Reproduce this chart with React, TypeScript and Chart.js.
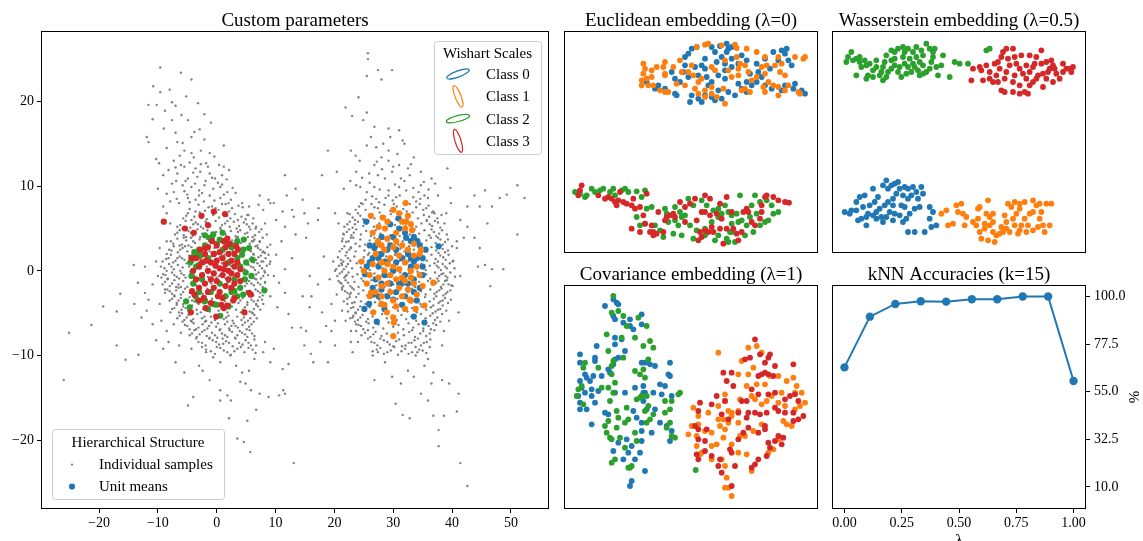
import React, { useEffect, useRef } from 'react';
import { Chart, registerables } from 'chart.js';
Chart.register(...registerables);

const FONT = '"Liberation Serif", "DejaVu Serif", serif';
const C0 = '#1f77b4';
const C1 = '#ff7f0e';
const C2 = '#2ca02c';
const C3 = '#d62728';
const GREY = '#808080';

// ---------- main panel ----------
const MAIN_X_TICKS = [-20, -10, 0, 10, 20, 30, 40, 50];
const MAIN_Y_TICKS = [-20, -10, 0, 10, 20];
const CLASS_LABELS = ['Class 0', 'Class 1', 'Class 2', 'Class 3'];
// legend ellipse shapes: [radiusX, radiusY, rotation]
const WISHART_SHAPES = [[12, 3, -0.35], [3, 11.5, -0.37], [12, 3, -0.25], [3, 12, -0.3]];

const GREY_LEFT_CORE = [
-4.6,7.3, -3.1,7.8, -2.0,7.1, -0.8,7.6, 0.3,7.2, 1.5,7.9, 2.6,7.4, 3.7,7.7, -1.4,7.5, 0.9,7.9,
-5.7,6.2, -4.9,6.8, -3.8,6.4, -2.9,6.9, -1.7,6.1, -0.6,6.6, 0.4,6.3, 1.2,6.8, 2.3,6.2, 3.1,6.7, 4.2,6.4, 4.9,6.1, -2.3,6.5, 1.8,6.5,
-6.2,5.4, -5.3,5.9, -4.5,5.1, -3.6,5.7, -2.7,5.2, -1.9,5.8, -1.1,5.3, -0.2,5.9, 0.6,5.1, 1.4,5.6, 2.2,5.2, 2.9,5.8, 3.8,5.3, 4.6,5.7, 5.5,5.2, 6.1,5.6, -3.2,5.5, 0.9,5.4,
-7.1,4.3, -6.3,4.8, -5.6,4.2, -4.8,4.7, -4.1,4.1, -3.3,4.9, -2.5,4.4, -1.6,4.8, -0.9,4.2, -0.1,4.6, 0.7,4.9, 1.5,4.3, 2.4,4.7, 3.2,4.1, 4.0,4.8, 4.8,4.4, 5.7,4.9, 6.5,4.2, 7.2,4.6, -2.0,4.1, 1.1,4.5, 3.6,4.6,
-7.4,3.2, -6.7,3.8, -5.9,3.1, -5.2,3.6, -4.4,3.9, -3.7,3.3, -2.9,3.7, -2.1,3.1, -1.3,3.5, -0.5,3.9, 0.2,3.2, 1.0,3.7, 1.8,3.1, 2.6,3.6, 3.4,3.9, 4.1,3.3, 4.9,3.8, 5.6,3.2, 6.4,3.7, 7.3,3.4, -4.0,3.5, 0.6,3.4, 2.9,3.3, -1.7,3.8,
-8.1,2.5, -7.3,2.9, -6.6,2.2, -5.8,2.7, -5.0,2.3, -4.3,2.8, -3.5,2.1, -2.7,2.6, -1.9,2.9, -1.2,2.3, -0.4,2.7, 0.3,2.1, 1.1,2.6, 1.9,2.9, 2.7,2.4, 3.5,2.8, 4.3,2.2, 5.0,2.7, 5.8,2.3, 6.6,2.9, 7.4,2.5, 8.2,2.1, -3.1,2.4, 0.7,2.5, 2.3,2.2, 4.6,2.5,
-8.6,1.4, -7.8,1.9, -7.0,1.2, -6.3,1.7, -5.5,1.3, -4.7,1.8, -4.0,1.1, -3.2,1.6, -2.4,1.9, -1.7,1.3, -0.9,1.7, -0.2,1.1, 0.5,1.6, 1.3,1.9, 2.1,1.2, 2.9,1.8, 3.6,1.4, 4.4,1.9, 5.2,1.1, 5.9,1.6, 6.7,1.3, 7.5,1.8, 8.3,1.5, -5.9,1.5, -2.8,1.4, 0.9,1.3, 3.3,1.6, 6.3,1.9,
-8.9,0.3, -8.1,0.8, -7.3,0.2, -6.6,0.7, -5.8,0.4, -5.1,0.9, -4.3,0.1, -3.6,0.6, -2.8,0.3, -2.1,0.8, -1.3,0.2, -0.6,0.7, 0.2,0.4, 0.9,0.9, 1.7,0.1, 2.4,0.6, 3.2,0.3, 3.9,0.8, 4.7,0.2, 5.4,0.7, 6.2,0.4, 6.9,0.9, 7.7,0.3, 8.5,0.6, -4.7,0.5, -1.7,0.5, 1.3,0.5, 4.3,0.5,
-9.1,-0.4, -8.3,-0.9, -7.6,-0.2, -6.8,-0.7, -6.0,-0.3, -5.3,-0.8, -4.5,-0.1, -3.8,-0.6, -3.0,-0.9, -2.3,-0.3, -1.5,-0.7, -0.8,-0.2, 0.0,-0.8, 0.7,-0.4, 1.5,-0.9, 2.2,-0.2, 3.0,-0.6, 3.7,-0.3, 4.5,-0.8, 5.2,-0.1, 6.0,-0.6, 6.7,-0.4, 7.5,-0.9, 8.2,-0.2, -5.6,-0.5, -2.7,-0.5, 0.4,-0.6, 3.3,-0.7,
-8.8,-1.3, -8.0,-1.8, -7.2,-1.1, -6.5,-1.6, -5.7,-1.2, -5.0,-1.9, -4.2,-1.4, -3.5,-1.7, -2.7,-1.1, -2.0,-1.6, -1.2,-1.3, -0.5,-1.9, 0.3,-1.2, 1.0,-1.7, 1.8,-1.4, 2.5,-1.9, 3.3,-1.1, 4.0,-1.5, 4.8,-1.8, 5.5,-1.2, 6.3,-1.7, 7.0,-1.4, 7.8,-1.9, -3.9,-1.2, -0.9,-1.5, 2.1,-1.3, 5.1,-1.5, -6.1,-1.9,
-8.4,-2.2, -7.6,-2.7, -6.9,-2.3, -6.1,-2.8, -5.4,-2.1, -4.6,-2.6, -3.9,-2.9, -3.1,-2.3, -2.4,-2.7, -1.6,-2.1, -0.9,-2.6, -0.1,-2.9, 0.6,-2.3, 1.4,-2.8, 2.1,-2.2, 2.9,-2.6, 3.6,-2.1, 4.4,-2.7, 5.1,-2.4, 5.9,-2.8, 6.6,-2.2, 7.4,-2.6, -2.8,-2.4, 0.2,-2.5, 3.2,-2.5, -5.7,-2.5,
-7.6,-3.3, -6.8,-3.8, -6.1,-3.2, -5.3,-3.7, -4.6,-3.1, -3.8,-3.6, -3.1,-3.9, -2.3,-3.2, -1.6,-3.7, -0.8,-3.3, -0.1,-3.8, 0.7,-3.1, 1.4,-3.6, 2.2,-3.9, 2.9,-3.3, 3.7,-3.8, 4.4,-3.2, 5.2,-3.7, 5.9,-3.4, 6.7,-3.9, 7.3,-3.1, -4.2,-3.5, 1.0,-3.4, 4.0,-3.5,
-7.2,-4.4, -6.4,-4.9, -5.7,-4.2, -4.9,-4.7, -4.2,-4.1, -3.4,-4.6, -2.7,-4.9, -1.9,-4.3, -1.2,-4.8, -0.4,-4.2, 0.3,-4.7, 1.1,-4.4, 1.8,-4.9, 2.6,-4.2, 3.3,-4.6, 4.1,-4.9, 4.8,-4.3, 5.6,-4.8, 6.3,-4.5, 7.0,-4.2, -2.3,-4.5, 0.8,-4.5,
-6.3,-5.3, -5.5,-5.8, -4.8,-5.2, -4.0,-5.7, -3.3,-5.1, -2.5,-5.6, -1.8,-5.9, -1.0,-5.4, -0.3,-5.8, 0.5,-5.2, 1.2,-5.7, 2.0,-5.3, 2.7,-5.9, 3.5,-5.4, 4.2,-5.8, 5.0,-5.1, 5.7,-5.6, 6.4,-5.2, -2.1,-5.4, 1.6,-5.5,
-5.4,-6.4, -4.6,-6.9, -3.9,-6.2, -3.1,-6.7, -2.4,-6.3, -1.6,-6.8, -0.9,-6.1, -0.1,-6.6, 0.6,-6.9, 1.4,-6.3, 2.1,-6.8, 2.9,-6.2, 3.6,-6.7, 4.4,-6.4, 5.1,-6.9, 5.9,-6.3, -1.3,-6.5, 2.5,-6.5,
-4.2,-7.4, -3.4,-7.8, -2.5,-7.2, -1.7,-7.7, -0.8,-7.3, 0.1,-7.9, 0.9,-7.4, 1.8,-7.8, 2.6,-7.2, 3.5,-7.6, 4.3,-7.3, 5.2,-7.8, 6.0,-7.4, -0.3,-7.6,
-3.1,-8.4, -1.9,-8.8, -0.7,-8.2, 0.4,-8.7, 1.6,-8.3, 2.7,-8.9, 3.8,-8.5, 4.9,-8.2, 5.8,-8.8, 1.1,-8.6,
-1.8,-9.3, -0.3,-9.8, 1.2,-9.4, 2.4,-9.9, 3.5,-9.2, 4.7,-9.6, 6.1,-9.3, 0.6,-9.1,
];

const GREY_LEFT_RING = [
-3.6,7.0, -0.2,7.4, 2.1,7.0, 4.4,7.5,
-5.2,6.5, -4.3,6.0, -0.1,6.9, 3.6,6.0, 5.4,6.6, 6.2,6.2,
-5.8,5.0, -4.0,5.5, -2.3,5.0, 1.8,5.9, 3.4,5.0, 5.1,5.5, 6.6,5.0,
-6.7,4.5, -5.2,4.0, -4.4,4.5, -2.8,4.0, 3.6,4.0, 5.2,4.5, 6.1,4.0, 7.6,4.9,
-7.8,3.5, -6.3,3.0, -5.6,3.9, -4.8,3.0, 4.5,3.5, 5.3,4.0, 6.0,3.5, 6.9,3.0, 7.8,3.9,
-8.5,2.0, -7.7,2.4, -6.2,2.5, -5.4,2.9, 5.4,2.5, 6.2,2.0, 7.0,2.7, 7.8,2.2, 8.6,2.8,
-9.2,1.1, -8.2,1.5, -7.4,1.0, -6.7,1.5, 5.6,1.4, 6.3,1.0, 7.1,1.6, 7.9,1.1, 8.8,1.9,
-9.5,0.5, -8.5,0.0, -7.7,0.5, -6.2,0.0, 5.8,0.5, 6.5,0.1, 7.3,0.6, 8.1,0.0, 9.0,0.8,
-9.4,-0.8, -8.7,-0.5, -7.2,-0.5, -6.4,-0.9, 5.6,-0.5, 6.4,-0.9, 7.1,-0.2, 7.9,-0.6, 8.7,-0.5,
-9.2,-1.6, -8.4,-1.0, -7.6,-1.5, -6.9,-1.9, 5.9,-1.5, 6.7,-1.0, 7.4,-1.6, 8.2,-1.3,
-8.8,-2.6, -8.0,-2.4, -7.2,-2.9, -6.5,-2.0, 5.5,-2.5, 6.2,-2.9, 7.0,-2.4, 7.8,-2.9,
-8.0,-3.5, -7.2,-3.0, -6.5,-3.5, -5.7,-3.9, 5.5,-3.0, 6.3,-3.6, 7.0,-3.5, 7.7,-3.4,
-7.6,-4.5, -6.8,-4.0, -6.0,-4.6, -5.3,-4.4, -4.5,-4.9, 4.5,-4.6, 5.2,-4.0, 6.0,-4.9, 6.7,-4.0, 7.4,-4.6,
-6.7,-5.6, -5.9,-5.0, -5.1,-5.5, -4.4,-5.9, 4.6,-5.5, 5.3,-5.9, 6.1,-5.0, 6.8,-5.6,
-5.8,-6.0, -5.0,-6.5, -4.2,-6.0, -3.5,-6.9, -2.0,-6.0, 0.2,-6.2, 1.8,-6.0, 3.2,-6.5, 4.8,-6.1, 5.5,-6.6, 6.3,-6.0,
-4.6,-7.6, -3.8,-7.0, -2.9,-7.5, -2.1,-7.0, -1.2,-7.9, 0.5,-7.0, 1.4,-7.6, 2.2,-7.0, 3.1,-7.9, 3.9,-7.1, 4.8,-7.5, 5.6,-7.0, 6.4,-7.7,
-3.5,-8.0, -2.5,-8.5, -1.3,-8.0, -0.1,-8.4, 1.0,-8.0, 2.1,-8.5, 3.2,-8.0, 4.4,-8.7, 5.4,-8.5, 6.4,-8.1,
-2.5,-9.0, -1.0,-9.5, 0.0,-9.0, 1.8,-9.6, 3.0,-9.5, 4.1,-9.0, 5.4,-9.1, 6.6,-9.7,
-6.8,8.5, -5.5,9.4, -4.6,8.1, -3.0,8.9, -2.2,8.2, -0.4,8.3, 1.2,9.0, 2.0,8.0, -7.6,10.3, -5.3,10.6, -3.7,10.3, -2.8,11.7, -0.8,11.0, 0.9,10.2, -4.6,12.8, -7.0,12.2,
];

const GREY_LEFT_HALO = [
-9.6,24.0, -6.1,23.4, -4.3,22.6, -10.8,21.8, -9.6,21.1, -8.0,21.4, -11.6,19.6, -10.2,19.6, -8.8,18.9, -7.6,19.9, -7.0,19.5, -10.9,17.9, -7.6,17.8, -4.9,17.8, -2.1,18.5, -1.0,17.5, -2.9,16.7, -3.8,16.4, -4.3,15.8, -11.9,15.8, -11.6,15.2, -6.7,15.2, -5.8,15.1, -2.1,15.5, 1.2,14.8, -5.5,14.2, -4.3,13.9, -2.7,14.2, -1.2,13.9, -10.3,13.2, -7.3,13.0, -6.1,12.5, -2.7,12.6, -1.8,12.7, -5.5,12.3, -3.6,12.1, 0.4,12.5, 1.2,12.3, 2.1,11.9, -9.1,11.3, -6.7,11.5, -4.9,10.9, -3.3,11.1, -1.2,11.5, -0.3,10.9, 0.9,11.3, 2.7,9.8, -10.0,9.7, -8.5,9.1, -7.3,9.3, -5.8,10.1, -4.3,9.9, -3.0,9.5, -2.1,10.1, -0.6,9.7, 0.6,9.9, 1.8,9.3, -9.1,7.6, -7.9,8.2, -6.4,8.0, -4.9,8.6, -3.6,8.4, -1.2,8.9, 0.6,8.6, 2.4,8.4, 4.3,8.0, 7.3,8.9, 8.8,8.4, 9.1,8.0, 11.2,7.0, 11.6,11.3, 13.4,9.7, 11.9,8.9,
-8.5,14.5, -7.0,16.3, -3.2,19.8, -5.2,20.6, -9.0,16.8, -6.3,13.6, -3.9,13.4, -0.4,13.5, -8.2,11.9, -1.9,10.6, 0.2,10.4, -6.9,10.6, -4.0,11.6, -2.5,9.2, -5.0,9.0, -1.5,12.3, 1.7,10.8, 3.2,9.2, -9.8,12.7, -6.0,18.4,
-0.6,-10.2, 0.6,-10.8, 2.3,-10.0, 3.3,-11.2, 4.3,-12.0, 5.5,-11.8, 6.4,-10.4, 7.9,-9.6, 9.1,-10.8, 4.0,-13.1, 4.9,-13.3, 5.8,-14.1, 7.3,-14.5, 8.8,-14.9, 10.6,-14.7, 11.3,-14.1, 0.6,-14.1, 1.8,-14.7, 0.6,-15.3, 2.4,-15.3, 6.7,-16.4, 2.1,-17.4, 5.2,-17.7, 3.5,-19.8, 4.6,-20.2, 5.7,-21.4, 13.1,-22.7, -4.9,-15.9, -4.0,-14.9, -2.4,-11.8, -1.2,-12.9, -7.0,-10.8, -5.5,-12.0, -3.0,-11.2, -1.8,-9.6, 6.7,-8.8, 8.2,-8.4, 9.7,-9.2, 12.2,-11.0, 11.6,-14.5,
-26.0,-12.9, -25.1,-7.3, -21.3,-6.4, -19.3,-4.2, -17.0,-4.8, -16.4,-2.7, -15.5,-10.5, -13.3,-9.9, -17.0,-8.8, -14.1,0.7, -12.2,0.5, -13.4,-1.4, -12.2,-2.6, -14.0,-3.9, -11.9,-4.7, -10.9,-6.3, -10.3,-8.2, -9.1,-9.2, -8.5,-7.1, -10.0,-0.6, -10.3,1.1, -9.7,2.7, -8.5,3.5, -7.9,5.6, -12.8,-5.5, -11.6,-3.4, -9.7,-3.9, -8.8,-2.2, -10.9,-1.6, -9.4,-5.9, -7.9,-4.9, -7.3,-6.3, -8.2,-8.4, -6.1,-7.3, -6.4,-8.8, -4.3,-9.2, -8.5,6.8, -6.7,5.2,
9.7,8.0, 7.9,7.2, 10.1,6.0, 11.6,5.2, 11.0,3.5, 9.1,3.1, 10.1,1.9, 11.6,0.2, 9.7,-0.6, 8.2,-1.4, 9.1,-3.0, 10.3,-4.3, 7.9,-3.9, 11.6,-2.6, 13.1,6.4, 14.9,6.8, 15.5,5.6, 13.4,4.3, 12.8,7.2, 8.2,5.6, 8.5,4.3, 6.7,5.2, 7.3,3.5, 9.1,1.1, 7.6,1.1, 10.6,-1.4, 12.8,1.5, 12.2,-5.1, 12.8,-6.7, 11.2,-11.6, 7.1,7.8, 5.5,7.6, 5.2,6.6, 6.2,3.5, 7.9,2.3,
];

const GREY_BRIDGE = [
17.3,7.4, 17.2,6.0, 18.2,1.7, 18.9,14.2, 17.9,11.3, 16.1,-3.0, 14.6,-3.0, 15.8,-4.3, 14.3,-6.7, 15.2,-7.1, 14.9,-8.8, 16.0,-9.8, 16.4,-10.8, 17.6,-8.4, 18.9,-10.8, 20.1,-8.8, 19.5,-7.1, 18.6,-6.5, 17.9,-4.9, 20.1,-5.9, 19.5,-3.9, 20.4,-2.8, 21.3,-2.2, 21.3,-4.7, 21.0,-1.4, 19.2,-1.0, 20.1,0.0, 14.6,8.4, 15.2,3.9, 15.8,-0.6, 17.2,-1.6, 22.8,-8.4, 23.7,-7.1,
];

const GREY_RIGHT_CORE = [
25.3,8.4, 26.4,8.8, 27.6,8.1, 28.7,8.6, 29.9,8.3, 31.1,8.9, 32.2,8.2, 33.4,8.7, 34.6,8.5, 30.5,8.7,
24.2,7.6, 25.3,7.2, 26.3,7.9, 27.4,7.4, 28.5,7.8, 29.5,7.1, 30.6,7.6, 31.7,7.3, 32.8,7.9, 33.9,7.5, 35.1,7.2, 36.0,7.7,
23.1,6.3, 24.0,6.8, 24.9,6.1, 25.9,6.6, 26.8,6.2, 27.7,6.9, 28.6,6.4, 29.6,6.7, 30.5,6.1, 31.4,6.8, 32.3,6.3, 33.3,6.9, 34.2,6.2, 35.2,6.6, 36.1,6.4, 37.0,6.8,
22.2,5.5, 23.1,5.1, 24.0,5.8, 24.9,5.3, 25.8,5.9, 26.7,5.2, 27.6,5.6, 28.5,5.1, 29.4,5.8, 30.3,5.4, 31.2,5.9, 32.1,5.3, 33.0,5.7, 33.9,5.2, 34.8,5.6, 35.7,5.9, 36.6,5.3, 37.6,5.7,
22.1,4.6, 22.9,4.2, 23.7,4.9, 24.5,4.3, 25.4,4.7, 26.2,4.1, 27.0,4.8, 27.8,4.4, 28.7,4.9, 29.5,4.2, 30.3,4.6, 31.1,4.1, 32.0,4.7, 32.8,4.3, 33.6,4.9, 34.4,4.4, 35.3,4.8, 36.1,4.2, 36.9,4.6, 37.8,4.4,
22.0,3.4, 22.8,3.9, 23.6,3.2, 24.4,3.7, 25.2,3.1, 26.0,3.6, 26.8,3.9, 27.6,3.3, 28.4,3.8, 29.2,3.2, 30.0,3.7, 30.8,3.1, 31.6,3.5, 32.4,3.9, 33.2,3.3, 34.0,3.8, 34.8,3.2, 35.6,3.6, 36.4,3.9, 37.2,3.3, 38.0,3.7, 38.8,3.4,
21.3,2.6, 22.1,2.2, 22.8,2.8, 23.6,2.3, 24.3,2.9, 25.1,2.4, 25.9,2.1, 26.6,2.7, 27.4,2.2, 28.1,2.8, 28.9,2.4, 29.7,2.9, 30.4,2.1, 31.2,2.6, 31.9,2.3, 32.7,2.9, 33.5,2.5, 34.2,2.1, 35.0,2.7, 35.7,2.3, 36.5,2.8, 37.3,2.4, 38.0,2.9, 38.8,2.2,
21.1,1.3, 21.9,1.8, 22.7,1.2, 23.4,1.7, 24.2,1.1, 25.0,1.6, 25.7,1.9, 26.5,1.3, 27.3,1.8, 28.0,1.2, 28.8,1.7, 29.6,1.4, 30.3,1.9, 31.1,1.2, 31.9,1.6, 32.6,1.1, 33.4,1.8, 34.2,1.3, 34.9,1.7, 35.7,1.2, 36.5,1.9, 37.2,1.4, 38.0,1.8, 38.9,1.3,
20.8,0.6, 21.6,0.2, 22.3,0.8, 23.0,0.3, 23.8,0.9, 24.5,0.4, 25.2,0.7, 26.0,0.1, 26.7,0.6, 27.4,0.9, 28.2,0.3, 28.9,0.8, 29.6,0.2, 30.4,0.7, 31.1,0.4, 31.8,0.9, 32.6,0.2, 33.3,0.6, 34.0,0.3, 34.8,0.8, 35.5,0.1, 36.2,0.6, 37.0,0.9, 37.7,0.4, 38.4,0.8, 39.1,0.3,
20.9,-0.3, 21.7,-0.8, 22.4,-0.2, 23.1,-0.7, 23.9,-0.4, 24.6,-0.9, 25.3,-0.1, 26.1,-0.6, 26.8,-0.3, 27.5,-0.8, 28.3,-0.2, 29.0,-0.7, 29.7,-0.5, 30.5,-0.9, 31.2,-0.2, 31.9,-0.6, 32.7,-0.3, 33.4,-0.8, 34.1,-0.1, 34.9,-0.7, 35.6,-0.4, 36.3,-0.9, 37.1,-0.2, 37.8,-0.6, 38.5,-0.3, 39.2,-0.8,
21.2,-1.5, 21.9,-1.1, 22.7,-1.8, 23.4,-1.3, 24.1,-1.9, 24.9,-1.2, 25.6,-1.6, 26.3,-1.1, 27.1,-1.7, 27.8,-1.4, 28.5,-1.9, 29.3,-1.2, 30.0,-1.6, 30.7,-1.3, 31.5,-1.8, 32.2,-1.1, 32.9,-1.5, 33.7,-1.9, 34.4,-1.3, 35.1,-1.7, 35.9,-1.2, 36.6,-1.6, 37.3,-1.4, 38.1,-1.9, 38.8,-1.2, 39.4,-1.6,
21.8,-2.4, 22.6,-2.8, 23.3,-2.2, 24.1,-2.7, 24.9,-2.3, 25.6,-2.9, 26.4,-2.1, 27.1,-2.6, 27.9,-2.4, 28.7,-2.8, 29.4,-2.2, 30.2,-2.7, 30.9,-2.3, 31.7,-2.9, 32.5,-2.5, 33.2,-2.1, 34.0,-2.6, 34.7,-2.4, 35.5,-2.8, 36.3,-2.2, 37.0,-2.7, 37.8,-2.3, 38.5,-2.9, 39.2,-2.5,
22.2,-3.3, 23.0,-3.8, 23.7,-3.1, 24.5,-3.6, 25.3,-3.9, 26.1,-3.2, 26.9,-3.7, 27.6,-3.4, 28.4,-3.9, 29.2,-3.1, 30.0,-3.6, 30.7,-3.3, 31.5,-3.8, 32.3,-3.2, 33.1,-3.7, 33.8,-3.4, 34.6,-3.9, 35.4,-3.1, 36.2,-3.6, 36.9,-3.3, 37.7,-3.8, 38.4,-3.5,
22.8,-4.4, 23.6,-4.9, 24.4,-4.2, 25.2,-4.7, 26.0,-4.3, 26.8,-4.8, 27.6,-4.1, 28.4,-4.6, 29.2,-4.9, 30.0,-4.3, 30.8,-4.7, 31.6,-4.2, 32.4,-4.8, 33.2,-4.4, 34.0,-4.9, 34.8,-4.2, 35.6,-4.6, 36.4,-4.3, 37.2,-4.8, 38.0,-4.5,
23.2,-5.3, 24.0,-5.8, 24.8,-5.2, 25.7,-5.7, 26.5,-5.4, 27.3,-5.9, 28.1,-5.1, 28.9,-5.6, 29.8,-5.3, 30.6,-5.8, 31.4,-5.2, 32.2,-5.7, 33.1,-5.4, 33.9,-5.9, 34.7,-5.1, 35.5,-5.6, 36.3,-5.3, 37.1,-5.8,
24.1,-6.4, 24.9,-6.9, 25.8,-6.2, 26.6,-6.7, 27.5,-6.3, 28.3,-6.8, 29.2,-6.1, 30.0,-6.6, 30.9,-6.4, 31.7,-6.9, 32.6,-6.2, 33.4,-6.7, 34.3,-6.3, 35.1,-6.8, 36.0,-6.5, 36.8,-6.2,
25.2,-7.3, 26.1,-7.8, 27.0,-7.2, 28.0,-7.7, 28.9,-7.4, 29.9,-7.9, 30.8,-7.3, 31.8,-7.6, 32.7,-7.2, 33.7,-7.8, 34.6,-7.4, 35.6,-7.7,
26.3,-8.4, 27.3,-8.8, 28.4,-8.2, 29.4,-8.7, 30.5,-8.3, 31.5,-8.9, 32.6,-8.5, 33.6,-8.2, 34.7,-8.8, 35.7,-8.4,
27.2,-9.3, 28.4,-9.8, 29.6,-9.4, 30.8,-9.9, 32.0,-9.2, 33.2,-9.6, 34.4,-9.3, 35.6,-9.7,
];

const GREY_RIGHT_RING = [
24.5,8.0, 27.1,8.5, 29.2,8.9, 31.8,8.0, 33.9,8.2, 35.3,8.9,
23.6,7.2, 24.8,7.9, 26.8,7.5, 30.1,7.9, 32.3,7.0, 34.5,7.9, 35.6,7.4, 36.8,7.0,
22.6,6.7, 23.5,6.0, 24.4,6.5, 35.7,6.0, 36.6,6.9, 37.5,6.2, 38.2,6.6,
21.7,5.2, 22.6,5.8, 23.5,5.5, 36.2,5.5, 37.1,5.9, 38.0,5.1, 38.7,5.6,
21.5,4.4, 22.5,4.9, 23.3,4.5, 36.5,4.9, 37.3,4.1, 38.3,4.8, 39.1,4.3,
21.4,3.8, 22.4,3.5, 23.2,3.9, 37.6,3.9, 38.4,3.1, 39.3,3.7,
20.9,2.3, 21.7,2.9, 22.5,2.5, 37.7,2.1, 38.4,2.6, 39.3,2.4, 40.0,2.9,
20.6,1.6, 21.5,1.1, 22.3,1.5, 37.6,1.1, 38.5,1.6, 39.4,1.9, 40.2,1.2,
20.3,0.2, 21.2,0.9, 22.0,0.5, 37.4,0.6, 38.1,0.1, 38.8,0.5, 39.6,0.9, 40.4,0.3,
20.5,-0.6, 21.3,-0.1, 22.1,-0.5, 37.5,-0.9, 38.2,-0.4, 38.9,-0.6, 39.7,-0.2, 40.5,-0.7,
20.7,-1.2, 21.5,-1.8, 22.3,-1.4, 37.7,-1.2, 38.5,-1.6, 39.1,-1.1, 39.9,-1.7,
21.3,-2.0, 22.2,-2.6, 23.0,-2.0, 37.4,-2.5, 38.2,-2.1, 38.9,-2.7, 39.7,-2.3,
21.6,-3.6, 22.6,-3.1, 23.4,-3.7, 37.3,-3.0, 38.0,-3.6, 38.8,-3.2, 39.3,-3.8,
22.3,-4.8, 23.2,-4.3, 24.0,-4.6, 36.8,-4.1, 37.6,-4.6, 38.4,-4.1, 39.0,-4.7,
22.7,-5.6, 23.6,-5.0, 24.4,-5.5, 36.7,-5.0, 37.5,-5.5, 38.3,-5.1,
23.5,-6.0, 24.5,-6.5, 25.4,-6.0, 36.4,-6.9, 37.3,-6.4, 38.0,-6.0,
24.6,-7.6, 25.7,-7.0, 26.6,-7.5, 33.2,-7.0, 35.1,-7.1, 36.2,-7.4, 37.0,-7.0,
25.7,-8.0, 26.8,-8.5, 27.8,-8.0, 29.0,-8.4, 30.0,-8.9, 31.0,-8.1, 32.1,-8.8, 33.1,-8.5, 34.2,-8.0, 35.2,-8.5, 36.3,-8.1,
26.5,-9.5, 27.8,-9.1, 29.0,-9.6, 30.2,-9.0, 31.4,-9.5, 32.6,-9.8, 33.8,-9.0, 35.0,-9.4, 36.2,-9.0,
24.4,9.9, 26.0,10.4, 27.7,9.6, 28.1,12.0, 30.3,10.2, 31.9,10.6, 33.4,9.8, 35.2,10.5, 24.7,11.0, 27.2,12.9, 30.0,12.3, 33.0,12.6, 22.7,10.6, 36.0,9.6, 37.6,8.9, 37.1,10.3,
];

const GREY_RIGHT_HALO = [
25.7,25.7, 25.7,25.0, 27.4,23.7, 29.8,23.7, 28.0,22.6, 25.5,23.0, 24.1,20.5, 21.9,19.3, 23.0,18.3, 25.5,18.7, 26.8,17.0, 29.2,16.8, 29.5,15.8, 31.0,16.6, 31.6,15.4, 24.9,17.8, 22.8,14.2, 23.6,13.6, 26.2,15.8, 27.1,14.6, 28.0,13.4, 29.2,13.0, 30.7,13.8, 31.9,15.0, 33.5,13.4, 36.5,10.9, 34.7,11.7, 23.7,11.7, 25.9,11.5, 27.4,11.3, 28.6,10.9, 29.8,11.7, 31.3,10.9, 32.8,11.3, 20.4,11.7, 21.6,9.7, 23.7,10.1, 25.5,9.3, 26.8,9.9, 29.2,9.5, 31.0,9.9, 32.2,9.5, 34.3,9.3, 35.9,8.6, 25.5,14.8, 24.3,13.0, 28.3,15.0, 29.2,14.2, 26.8,12.5, 31.0,12.5, 32.5,12.1, 39.2,12.1, 39.7,9.8, 34.7,10.1,
42.6,7.6, 43.8,8.9, 45.6,9.5, 48.1,8.6, 49.3,9.0, 51.1,10.1, 52.3,8.6, 46.8,7.6, 44.7,7.6, 41.4,6.0, 42.0,3.9, 43.8,3.9, 44.7,2.7, 45.6,0.7, 46.8,0.2, 48.7,0.2, 46.5,-1.8, 44.4,0.5, 51.1,4.3, 46.0,5.6, 40.8,3.5, 40.1,1.1, 41.4,-0.6, 41.1,-4.9, 39.8,-3.4, 39.5,-5.9, 38.6,-7.1, 38.3,-8.8, 42.6,5.2, 39.0,6.8, 39.8,8.0, 40.8,2.7, 40.1,-1.8,
37.7,-18.8, 37.7,-20.7, 41.4,-22.7, 42.6,-25.4, 40.8,-16.6, 41.1,-14.5, 39.5,-13.3, 38.3,-12.9, 36.8,-12.0, 35.3,-11.2, 33.8,-10.0, 32.5,-11.8, 34.7,-14.5, 35.9,-15.3, 36.8,-17.1, 38.6,-17.1, 31.6,-17.0, 32.8,-17.4, 30.4,-15.7, 31.3,-13.3, 29.8,-12.5, 28.6,-10.8, 26.8,-12.9, 26.5,-10.0, 27.4,-9.6, 24.0,-8.4, 23.1,-9.6, 33.5,-12.5, 36.5,-13.3, 34.1,-9.6, 35.9,-10.4,
21.3,3.5, 19.8,1.1, 20.7,5.6, 22.2,6.8, 20.1,6.8, 21.6,4.3, 22.8,2.7, 21.3,0.7, 21.9,-0.6, 22.8,-2.6, 22.2,-3.9, 23.1,-5.5, 23.7,-6.3, 21.9,-5.9, 22.8,-7.1,
];

const MEAN_C0 = [
25.4,5.8, 30.9,6.2, 34.1,3.5, 37.7,2.9, 35.0,0.5, 25.2,-0.4, 26.6,-2.8, 25.9,-3.9, 25.1,-4.5, 27.2,-6.0, 30.0,-3.4, 33.5,-5.4, 35.3,-6.1, 32.2,3.9, 26.8,2.7, 28.6,1.1, 33.5,1.1, 31.6,-1.4, 28.0,-2.2,
26.5,1.5, 27.0,-1.0, 27.5,0.5, 28.0,2.0, 28.5,-0.5, 29.0,1.0, 29.5,3.0, 30.0,0.0, 30.5,2.5, 31.0,-1.5, 31.5,1.5, 32.0,-0.5, 32.5,2.0, 33.0,0.5, 33.5,-1.0, 34.0,1.5, 34.5,3.0, 35.0,-0.5, 34.5,-2.0, 33.0,3.5, 32.0,4.5, 31.0,5.0, 29.5,5.5, 28.0,4.0, 27.0,3.0, 26.0,1.0, 26.5,-2.0, 27.5,-3.0, 29.0,-3.0, 30.5,-2.5, 32.0,-3.0, 33.5,-2.5, 35.0,1.5, 34.0,-3.5, 28.0,-1.5, 29.5,-1.5, 26.0,3.0, 35.5,2.5, 33.5,4.0, 30.0,4.0, 25.5,0.5, 31.5,-4.0, 28.5,-4.5, 32.5,-1.5, 27.5,1.5, 30.5,1.0, 29.0,2.5, 33.0,1.5,
];
const MEAN_C1 = [
32.1,8.0, 30.0,7.2, 26.2,6.5, 28.2,6.3, 28.6,5.0, 32.2,5.8, 33.2,4.8, 27.4,3.5, 34.7,2.5, 24.6,1.1, 36.8,-1.4, 35.3,-4.1, 33.8,-4.5, 28.9,-4.9, 26.6,-4.9, 28.0,-3.9, 30.1,-6.1, 30.0,-7.7, 32.8,-3.4, 26.2,-2.6,
25.0,0.0, 25.5,-1.5, 26.0,-0.5, 26.5,0.8, 27.0,2.0, 27.0,-2.5, 27.5,-0.8, 28.0,1.0, 28.0,-3.0, 28.5,2.5, 28.5,0.0, 29.0,-1.5, 29.0,3.8, 29.5,1.5, 29.5,-2.5, 30.0,0.5, 30.0,2.8, 30.0,-3.5, 30.5,-1.0, 30.5,4.5, 31.0,1.8, 31.0,-2.0, 31.0,0.2, 31.5,3.0, 31.5,-3.0, 32.0,1.0, 32.0,-1.2, 32.0,5.0, 32.5,-2.2, 32.5,2.5, 33.0,0.0, 33.0,-3.5, 33.5,1.8, 33.5,-1.5, 34.0,0.5, 34.0,-2.8, 34.5,2.0, 34.5,-0.5, 35.0,-1.8, 29.0,0.8, 28.0,-1.8, 27.5,3.2, 30.5,-4.2, 31.5,5.8, 32.5,6.5, 33.0,5.5, 31.0,6.8, 29.5,-0.5, 26.5,4.5, 27.5,5.2, 30.0,-5.5, 28.5,-4.0, 32.0,-4.5, 33.5,3.2, 26.0,-3.0, 29.0,5.8, 30.5,3.5, 31.5,-0.8, 28.0,3.0, 33.0,-0.8,
];
const MEAN_C2 = [
-3.3,2.1, -0.6,4.3, 0.5,3.7, 2.4,3.0, 4.6,3.7, 5.5,2.7, 6.1,1.3, 5.9,-0.6, 8.1,-2.3, -5.2,-3.6, -4.6,-4.3, -3.6,-3.0, 0.6,-5.3, -4.3,-0.6, -3.9,1.7, -1.2,3.9, 4.3,1.9, 4.9,-0.2, 3.0,-2.4, -0.6,-3.9, -2.1,-3.6, -3.0,0.7,
-3.5,0.5, -3.0,2.5, -2.5,-1.0, -2.0,3.0, -1.5,1.5, -1.0,-2.5, -0.5,2.0, 0.0,3.2, 0.5,-1.5, 1.0,2.5, 1.5,-3.0, 2.0,1.0, 2.5,2.8, 3.0,-1.0, 3.5,1.5, 4.0,-2.0, 4.0,0.5, 4.5,2.5, 3.5,-3.0, 2.5,-2.5, -4.0,-1.5, -3.0,-2.5, -2.0,-3.5, -4.5,1.0, -3.8,2.2, -2.7,1.8, 4.8,-1.0, 5.0,1.0, -1.0,3.8, 1.5,3.5, 0.0,-4.0, -1.5,-4.5, 2.0,-4.2, 3.5,3.5, -3.2,-3.5, 1.0,4.5, -2.0,4.2, 4.5,-2.8,
];
const MEAN_C3 = [
-9.0,5.8, -5.4,5.0, -3.9,4.5, -2.6,6.5, -1.5,5.4, -0.5,7.0, 1.4,6.7, 3.3,2.9, 1.2,3.5, -1.9,2.7, -4.2,-2.4, -4.4,-4.9, -1.9,-4.4, -0.1,-5.4, 1.2,-4.4, 1.8,-4.1, 4.7,-4.9, 5.5,-2.6, 5.8,-2.8, 3.0,-3.2,
-4.0,0.0, -3.5,-1.0, -3.5,1.5, -3.0,0.5, -3.0,-2.0, -2.5,1.0, -2.5,-0.5, -2.0,2.0, -2.0,-1.5, -1.5,0.0, -1.5,2.8, -1.5,-2.5, -1.0,1.0, -1.0,-1.0, -0.5,2.0, -0.5,-0.3, -0.5,-2.0, 0.0,1.2, 0.0,-1.2, 0.0,3.0, 0.5,0.3, 0.5,-2.5, 0.5,2.2, 1.0,-0.5, 1.0,1.5, 1.0,-3.2, 1.5,0.8, 1.5,-1.8, 1.5,2.8, 2.0,0.0, 2.0,-1.0, 2.0,2.0, 2.5,1.2, 2.5,-2.0, 2.5,-0.3, 3.0,0.5, 3.0,2.0, 3.0,-1.5, 3.5,-0.5, 3.5,1.0, 4.0,0.2, 4.0,-1.2, -2.2,-3.2, -3.8,-2.8, -4.3,1.5, -1.0,-3.8, 0.8,-4.0, 2.2,3.2, -0.8,3.5, 1.8,3.8, -2.8,2.5, 3.6,2.5, -3.0,-3.5, 2.8,-3.5, 0.2,-3.0, -1.8,1.2, 1.2,0.2, -0.2,0.6,
];

// ---------- embeddings (arbitrary embedding units) ----------
const EUC_C0 = [380,50, 395,45, 370,65, 440,45, 465,42, 485,35, 490,50, 450,60, 470,75, 500,80, 480,95, 455,90, 420,80, 410,100, 390,105, 360,100, 355,120, 330,140, 320,120, 345,150, 370,135, 400,130, 425,135, 440,150, 460,130, 480,115, 500,105, 520,95, 545,85, 575,95, 600,80, 625,60, 650,55, 660,65, 665,50, 680,100, 670,85, 640,85, 615,110, 590,135, 575,150, 560,160, 545,180, 530,170, 510,190, 490,180, 470,200, 450,205, 440,195, 420,190, 400,200, 380,190, 375,210, 410,210, 330,185, 335,190, 300,170, 280,160, 270,170, 245,150, 460,175, 480,140, 430,160, 580,120, 600,160, 620,170, 660,160, 690,155, 685,170, 710,175, 720,185, 650,175, 545,150, 555,125, 520,155, 485,60, 500,45, 530,70, 420,110, 360,75];
const EUC_C1 = [395,45, 420,38, 430,35, 470,40, 510,38, 515,48, 545,50, 575,60, 600,75, 630,100, 645,120, 650,95, 640,75, 690,75, 715,80, 720,75, 605,100, 590,105, 600,125, 575,135, 560,145, 530,175, 555,180, 540,170, 595,165, 600,180, 610,150, 625,160, 640,165, 660,175, 640,190, 670,160, 700,180, 705,185, 660,130, 520,130, 500,135, 490,115, 520,110, 540,100, 525,95, 515,75, 480,85, 450,115, 440,105, 410,140, 400,150, 385,130, 370,120, 350,120, 345,85, 325,105, 300,90, 295,105, 300,130, 275,105, 260,115, 240,110, 235,95, 235,125, 245,140, 230,145, 230,160, 250,160, 265,160, 285,175, 300,180, 310,180, 335,155, 360,160, 390,170, 420,175, 440,165, 420,195, 440,185, 480,215, 455,195, 400,185, 380,100, 300,125, 260,135, 475,170, 550,120];
const EUC_C2 = [30,480, 45,485, 65,490, 90,480, 105,475, 115,470, 135,480, 145,470, 150,490, 170,475, 180,470, 190,480, 215,478, 240,475, 230,495, 260,525, 245,530, 215,555, 225,580, 240,575, 300,530, 305,545, 330,525, 345,540, 350,555, 370,500, 385,520, 410,505, 425,520, 445,535, 460,530, 480,520, 490,540, 500,550, 515,545, 525,490, 560,520, 570,490, 585,510, 605,505, 620,520, 640,540, 625,545, 600,570, 610,565, 585,580, 565,600, 540,610, 520,570, 500,575, 495,600, 485,620, 510,630, 490,630, 460,610, 450,625, 420,610, 385,620, 350,610, 325,605, 295,615, 285,595, 270,580, 310,570, 330,565, 340,580, 360,550, 375,580, 395,595, 420,590, 440,570, 460,555, 470,545, 500,600, 530,565, 545,580, 555,555, 575,545, 80,470, 60,495];
const EUC_C3 = [50,460, 45,475, 40,490, 100,490, 120,500, 130,495, 140,500, 150,510, 160,505, 155,520, 165,480, 175,510, 185,515, 205,500, 200,520, 210,530, 225,525, 245,485, 235,550, 240,575, 260,580, 265,600, 255,600, 275,605, 295,600, 300,565, 305,555, 315,550, 330,555, 325,545, 345,510, 360,525, 375,515, 390,500, 395,565, 405,600, 410,615, 400,625, 420,595, 430,600, 445,600, 440,585, 420,540, 435,550, 465,515, 470,560, 485,590, 475,635, 505,590, 515,605, 520,625, 535,540, 550,540, 560,570, 570,580, 585,560, 590,540, 590,520, 605,490, 625,495, 640,505, 660,510, 672,512, 600,495, 545,530, 455,545, 435,500, 485,495, 360,570, 420,490, 410,540, 280,540, 200,590, 225,600, 265,610, 465,590, 500,540, 530,600];

const WAS_C0 = [35,540, 50,545, 70,535, 70,510, 80,495, 95,490, 90,525, 85,560, 100,555, 105,545, 100,580, 110,520, 120,470, 125,510, 135,495, 130,540, 140,530, 150,460, 160,445, 165,470, 175,460, 185,455, 195,450, 200,470, 215,465, 225,470, 240,465, 235,490, 250,480, 265,465, 270,485, 255,500, 260,525, 245,530, 230,545, 220,560, 210,570, 200,550, 185,545, 170,540, 160,555, 150,570, 145,555, 155,520, 165,510, 180,500, 190,485, 210,490, 225,500, 205,520, 180,565, 290,525, 300,540, 290,560, 310,580, 295,585, 275,600, 245,600, 225,600, 130,560, 120,550, 75,565, 55,535, 180,520, 215,525];
const WAS_C1 = [325,545, 340,535, 345,580, 360,575, 370,520, 385,515, 375,540, 390,545, 400,555, 395,580, 420,570, 430,580, 435,530, 440,525, 460,545, 465,505, 470,555, 480,545, 440,600, 455,590, 445,620, 465,625, 485,630, 480,600, 500,605, 505,585, 515,550, 520,570, 525,515, 535,525, 545,510, 560,515, 550,545, 540,560, 545,580, 555,605, 530,600, 520,590, 565,580, 575,560, 590,545, 600,505, 610,520, 620,515, 625,540, 600,540, 585,580, 600,595, 615,585, 635,600, 650,580, 640,515, 655,515, 560,530, 575,510, 480,570, 510,600, 490,610, 435,560, 455,575, 470,580, 580,600, 620,560, 630,580, 560,595];
const WAS_C2 = [55,60, 45,75, 40,90, 60,85, 80,75, 95,85, 100,100, 110,95, 70,130, 100,140, 105,130, 120,115, 130,105, 140,130, 150,145, 160,135, 150,105, 155,90, 160,70, 175,55, 185,60, 195,50, 210,45, 215,60, 225,50, 240,60, 250,45, 265,55, 280,35, 290,50, 305,50, 300,75, 295,90, 290,110, 270,100, 260,90, 250,75, 230,80, 215,95, 200,105, 195,120, 185,100, 175,85, 205,135, 220,125, 235,120, 245,105, 260,130, 270,125, 280,120, 310,105, 315,130, 325,100, 330,70, 350,135, 365,90, 380,95, 405,95, 470,50, 460,55, 270,70, 185,80, 175,110, 130,85, 80,90, 70,80, 145,120, 210,75, 240,95, 255,115, 300,60, 225,105, 165,120, 120,135, 85,105];
const WAS_C3 = [520,50, 540,50, 505,75, 525,80, 545,75, 565,70, 590,70, 610,75, 625,55, 640,90, 660,100, 690,95, 720,105, 715,120, 710,110, 690,120, 680,140, 660,150, 640,140, 630,165, 615,130, 600,105, 590,120, 580,140, 570,125, 560,110, 545,130, 540,150, 560,160, 575,180, 585,185, 560,185, 540,180, 515,180, 505,175, 495,150, 480,150, 470,140, 450,145, 445,115, 420,110, 415,145, 440,105, 460,100, 485,95, 500,110, 520,120, 515,140, 490,130, 600,150, 610,140, 625,95, 650,110, 655,85, 670,125, 700,110, 470,120, 530,100, 605,95, 590,160, 550,95, 495,90, 510,60, 580,100, 630,125, 645,120, 665,110];

const COV_C0 = [145,40, 155,50, 160,55, 120,60, 145,90, 150,100, 175,110, 195,100, 230,85, 230,115, 205,130, 195,120, 150,155, 170,160, 180,195, 150,175, 95,180, 160,215, 150,220, 145,235, 90,215, 90,225, 45,230, 45,205, 130,250, 135,260, 110,270, 85,270, 60,265, 65,275, 75,285, 45,285, 50,305, 80,310, 100,315, 80,330, 60,320, 40,330, 45,350, 90,350, 65,370, 45,370, 120,380, 130,385, 80,415, 180,320, 210,305, 230,230, 240,230, 255,235, 270,240, 235,300, 240,320, 265,320, 285,295, 300,300, 315,230, 310,265, 315,270, 290,325, 320,330, 270,370, 235,345, 245,370, 205,375, 215,395, 230,410, 230,435, 260,440, 285,410, 305,420, 320,435, 315,465, 230,465, 185,460, 160,470, 200,480, 225,500, 190,500, 175,520, 210,520, 145,495, 200,585, 195,600, 240,555, 235,320, 150,320];
const COV_C1 = [460,200, 550,185, 575,180, 590,200, 530,225, 520,265, 550,265, 565,245, 545,300, 575,295, 600,295, 615,270, 640,270, 665,285, 685,275, 695,300, 690,320, 710,320, 720,350, 705,360, 690,370, 650,320, 640,350, 660,360, 620,330, 605,345, 590,355, 570,340, 560,330, 525,340, 520,410, 525,450, 540,450, 520,375, 500,380, 490,375, 480,345, 480,325, 460,360, 430,380, 385,365, 400,390, 380,420, 370,445, 400,415, 420,435, 440,440, 460,400, 475,400, 490,410, 465,420, 480,430, 475,455, 455,475, 440,480, 395,480, 410,500, 405,505, 440,520, 470,520, 480,540, 485,575, 480,605, 490,605, 500,630, 545,505, 560,555, 610,500, 625,490, 640,460, 650,455, 665,415, 680,420, 655,405, 565,435, 590,415, 520,500, 500,475, 500,390, 395,450];
const COV_C2 = [145,30, 160,75, 140,80, 175,90, 185,120, 220,95, 245,120, 210,155, 255,165, 265,185, 235,180, 125,145, 170,155, 130,195, 145,225, 175,215, 140,240, 100,245, 55,245, 60,230, 50,300, 40,310, 35,330, 55,355, 140,265, 150,290, 130,305, 145,320, 110,305, 135,345, 155,375, 185,365, 160,395, 130,405, 120,420, 125,440, 135,455, 140,460, 165,455, 155,425, 180,410, 190,400, 210,440, 215,465, 180,485, 150,520, 140,530, 190,545, 195,545, 200,540, 235,250, 240,275, 225,265, 215,340, 225,335, 245,330, 250,360, 240,375, 265,385, 255,400, 300,380, 300,345, 320,345, 340,325, 345,320, 315,410, 305,425, 330,455, 320,450, 315,370, 245,410, 230,330, 210,255, 250,220, 392,552];
const COV_C3 = [570,160, 585,205, 610,215, 615,205, 630,240, 685,235, 600,230, 590,265, 600,260, 610,265, 625,270, 580,270, 540,220, 555,215, 500,260, 475,260, 485,285, 505,300, 560,310, 580,325, 610,325, 630,320, 660,340, 675,330, 690,325, 700,345, 715,390, 700,400, 685,380, 660,380, 640,375, 630,365, 605,380, 585,385, 570,380, 550,380, 545,395, 550,425, 535,440, 520,460, 600,420, 580,440, 600,430, 640,450, 655,455, 650,475, 630,465, 685,405, 610,470, 615,485, 580,520, 570,535, 560,545, 605,510, 500,500, 495,490, 510,540, 500,600, 470,560, 460,540, 465,520, 440,510, 420,495, 400,520, 395,505, 400,460, 420,465, 425,430, 400,430, 390,420, 400,375, 405,350, 440,355, 455,330, 480,345, 470,385, 490,400, 520,380, 530,345, 545,345];

// ---------- kNN ----------
const KNN_LAMBDA = [0, 0.111, 0.222, 0.333, 0.444, 0.556, 0.667, 0.778, 0.889, 1.0];
const KNN_ACC = [66.5, 90.5, 96.5, 97.8, 97.6, 98.7, 98.7, 100.0, 100.0, 60.1];
const KNN_X_TICKS = [0, 0.25, 0.5, 0.75, 1.0];
const KNN_Y_TICKS = [10, 32.5, 55, 77.5, 100];

// ---------- helpers ----------
const pts = (flat: number[]) => {
  const out: { x: number; y: number }[] = [];
  for (let i = 0; i + 1 < flat.length; i += 2) out.push({ x: flat[i], y: flat[i + 1] });
  return out;
};
const minusFmt = (v: number) => (v < 0 ? '\u2212' + Math.abs(v) : String(v));
const tickFont = { family: FONT, size: 14 };

const framePlugin = {
  id: 'frame',
  afterDatasetsDraw(chart: any) {
    const { ctx, chartArea: a } = chart;
    ctx.save();
    ctx.strokeStyle = '#000';
    ctx.lineWidth = 1;
    ctx.strokeRect(a.left - 0.5, a.top - 0.5, a.right - a.left + 1, a.bottom - a.top + 1);
    ctx.restore();
  },
};

const titlePlugin = (text: string) => ({
  id: 'ptitle',
  afterDraw(chart: any) {
    const { ctx, chartArea: a } = chart;
    ctx.save();
    ctx.font = `19px ${FONT}`;
    ctx.fillStyle = '#000';
    ctx.textAlign = 'center';
    ctx.textBaseline = 'alphabetic';
    ctx.fillText(text, (a.left + a.right) / 2, a.top - 6);
    ctx.restore();
  },
});

function roundRect(ctx: CanvasRenderingContext2D, x: number, y: number, w: number, h: number, r: number) {
  ctx.beginPath();
  ctx.moveTo(x + r, y);
  ctx.lineTo(x + w - r, y);
  ctx.arcTo(x + w, y, x + w, y + r, r);
  ctx.lineTo(x + w, y + h - r);
  ctx.arcTo(x + w, y + h, x + w - r, y + h, r);
  ctx.lineTo(x + r, y + h);
  ctx.arcTo(x, y + h, x, y + h - r, r);
  ctx.lineTo(x, y + r);
  ctx.arcTo(x, y, x + r, y, r);
  ctx.closePath();
}

const mainLegendPlugin = {
  id: 'mainLegend',
  afterDraw(chart: any) {
    const { ctx, chartArea: a } = chart;
    ctx.save();
    const bw = 107, bh = 113;
    const bx = a.right - 7 - bw, by = a.top + 9;
    roundRect(ctx, bx + 0.5, by + 0.5, bw, bh, 3);
    ctx.fillStyle = 'rgba(255,255,255,0.8)';
    ctx.fill();
    ctx.strokeStyle = '#cccccc';
    ctx.lineWidth = 1;
    ctx.stroke();
    ctx.fillStyle = '#000';
    ctx.font = `15px ${FONT}`;
    ctx.textBaseline = 'middle';
    ctx.textAlign = 'center';
    ctx.fillText('Wishart Scales', bx + bw / 2, by + 13);
    const cols = [C0, C1, C2, C3];
    ctx.textAlign = 'left';
    CLASS_LABELS.forEach((lab, i) => {
      const cy = by + 33 + i * 22.3;
      const [rx, ry, rot] = WISHART_SHAPES[i];
      ctx.beginPath();
      ctx.ellipse(bx + 24, cy, rx, ry, rot, 0, Math.PI * 2);
      ctx.strokeStyle = cols[i];
      ctx.lineWidth = 1.2;
      ctx.stroke();
      ctx.fillStyle = '#000';
      ctx.fillText(lab, bx + 52, cy + 1);
    });
    const hw = 172, hh = 70;
    const hx = a.left + 10, hy = a.bottom - 9 - hh;
    roundRect(ctx, hx + 0.5, hy + 0.5, hw, hh, 3);
    ctx.fillStyle = 'rgba(255,255,255,0.8)';
    ctx.fill();
    ctx.strokeStyle = '#cccccc';
    ctx.lineWidth = 1;
    ctx.stroke();
    ctx.fillStyle = '#000';
    ctx.textAlign = 'center';
    ctx.fillText('Hierarchical Structure', hx + hw / 2, hy + 14);
    ctx.textAlign = 'left';
    ctx.fillStyle = GREY;
    ctx.beginPath();
    ctx.arc(hx + 20, hy + 35.5, 1.1, 0, Math.PI * 2);
    ctx.fill();
    ctx.fillStyle = C0;
    ctx.beginPath();
    ctx.arc(hx + 20, hy + 57.5, 3.1, 0, Math.PI * 2);
    ctx.fill();
    ctx.fillStyle = '#000';
    ctx.fillText('Individual samples', hx + 47, hy + 36.5);
    ctx.fillText('Unit means', hx + 47, hy + 58.5);
    ctx.restore();
  },
};

const knnLabelsPlugin = {
  id: 'knnLabels',
  afterDraw(chart: any) {
    const { ctx, chartArea: a } = chart;
    ctx.save();
    ctx.fillStyle = '#000';
    ctx.font = `17px ${FONT}`;
    ctx.textAlign = 'center';
    ctx.textBaseline = 'alphabetic';
    ctx.fillText('\u03bb', (a.left + a.right) / 2, a.bottom + 38);
    ctx.translate(a.right + 50, (a.top + a.bottom) / 2);
    ctx.rotate(-Math.PI / 2);
    ctx.textBaseline = 'middle';
    ctx.font = `15px ${FONT}`;
    ctx.fillText('%', 0, 0);
    ctx.restore();
  },
};

const baseOptions = (padding: any) => ({
  responsive: false,
  animation: false as const,
  devicePixelRatio: 1,
  events: [] as any[],
  layout: { padding },
  plugins: { legend: { display: false }, tooltip: { enabled: false }, title: { display: false } },
});

const tickGrid = { display: true, drawOnChartArea: false, drawTicks: true, tickLength: 5, tickColor: '#000', tickWidth: 1, color: '#000' };

function makeMain(): any {
  const grey = pts([...GREY_LEFT_CORE, ...GREY_LEFT_RING, ...GREY_LEFT_HALO, ...GREY_BRIDGE, ...GREY_RIGHT_CORE, ...GREY_RIGHT_RING, ...GREY_RIGHT_HALO]);
  const mk = (flat: number[], color: string, order: number) => ({
    data: pts(flat), backgroundColor: color, borderWidth: 0, pointRadius: 3.1, order,
  });
  return {
    type: 'scatter',
    data: {
      datasets: [
        mk(MEAN_C3, C3, 1),
        mk(MEAN_C2, C2, 2),
        mk(MEAN_C1, C1, 3),
        mk(MEAN_C0, C0, 4),
        { data: grey, backgroundColor: GREY, borderWidth: 0, pointRadius: 1.2, order: 5 },
      ],
    },
    options: {
      ...baseOptions({ top: 32, left: 0, right: 12, bottom: 0 }),
      scales: {
        x: {
          type: 'linear', min: -29.7, max: 56.3,
          afterBuildTicks: (s: any) => { s.ticks = MAIN_X_TICKS.map((v) => ({ value: v })); },
          afterFit: (s: any) => { s.height = 33; },
          grid: tickGrid, border: { display: false },
          ticks: { font: tickFont, color: '#000', padding: 2, autoSkip: false, maxRotation: 0, callback: (v: number) => minusFmt(v) },
        },
        y: {
          type: 'linear', min: -28, max: 28.2,
          afterBuildTicks: (s: any) => { s.ticks = MAIN_Y_TICKS.map((v) => ({ value: v })); },
          afterFit: (s: any) => { s.width = 42; },
          grid: tickGrid, border: { display: false },
          ticks: { font: tickFont, color: '#000', padding: 3, autoSkip: false, callback: (v: number) => minusFmt(v) },
        },
      },
    },
    plugins: [framePlugin, titlePlugin('Custom parameters'), mainLegendPlugin],
  };
}

function makeEmbed(title: string, classes: number[][], ymax: number, padding: any): any {
  const cols = [C0, C1, C2, C3];
  return {
    type: 'scatter',
    data: {
      datasets: classes.map((flat, i) => ({
        data: pts(flat), backgroundColor: cols[i], borderWidth: 0, pointRadius: 2.9, order: 4 - i,
      })),
    },
    options: {
      ...baseOptions(padding),
      scales: {
        x: { type: 'linear', min: 0, max: 756, display: false },
        y: { type: 'linear', min: 0, max: ymax, reverse: true, display: false },
      },
    },
    plugins: [framePlugin, titlePlugin(title)],
  };
}

function makeKnn(): any {
  return {
    type: 'line',
    data: {
      datasets: [{
        data: KNN_LAMBDA.map((x, i) => ({ x, y: KNN_ACC[i] })),
        borderColor: C0, backgroundColor: C0, borderWidth: 2, pointRadius: 4.2, pointBorderWidth: 0, tension: 0, fill: false,
      }],
    },
    options: {
      ...baseOptions({ top: 26, left: 8, right: 0, bottom: 0 }),
      scales: {
        x: {
          type: 'linear', min: -0.05, max: 1.05,
          afterBuildTicks: (s: any) => { s.ticks = KNN_X_TICKS.map((v) => ({ value: v })); },
          afterFit: (s: any) => { s.height = 33; },
          grid: tickGrid, border: { display: false },
          ticks: { font: tickFont, color: '#000', padding: 2, autoSkip: false, maxRotation: 0, callback: (v: number) => v.toFixed(2) },
        },
        y: {
          type: 'linear', position: 'right', min: 0, max: 105,
          afterBuildTicks: (s: any) => { s.ticks = KNN_Y_TICKS.map((v) => ({ value: v })); },
          afterFit: (s: any) => { s.width = 58; },
          grid: tickGrid, border: { display: false },
          ticks: { font: tickFont, color: '#000', padding: 4, autoSkip: false, callback: (v: number) => v.toFixed(1) },
        },
      },
    },
    plugins: [framePlugin, titlePlugin('kNN Accuracies (k=15)'), knnLabelsPlugin],
  };
}

function ChartCanvas({ left, top, width, height, make }: { left: number; top: number; width: number; height: number; make: () => any }) {
  const ref = useRef<HTMLCanvasElement>(null);
  useEffect(() => {
    const chart = new Chart(ref.current as HTMLCanvasElement, make());
    return () => chart.destroy();
  }, []);
  return (
    <canvas ref={ref} width={width} height={height}
      style={{ position: 'absolute', left, top, width, height }} />
  );
}

export default function App() {
  return (
    <div style={{ position: 'absolute', left: 0, top: 0, width: 1143, height: 541, background: '#fff', overflow: 'hidden' }}>
      <ChartCanvas left={0} top={0} width={560} height={541} make={makeMain} />
      <ChartCanvas left={557} top={0} width={268} height={260}
        make={() => makeEmbed('Euclidean embedding (\u03bb=0)', [EUC_C0, EUC_C1, EUC_C2, EUC_C3], 660, { top: 32, left: 8, right: 8, bottom: 8 })} />
      <ChartCanvas left={825} top={0} width={268} height={260}
        make={() => makeEmbed('Wasserstein embedding (\u03bb=0.5)', [WAS_C0, WAS_C1, WAS_C2, WAS_C3], 660, { top: 32, left: 8, right: 8, bottom: 8 })} />
      <ChartCanvas left={557} top={260} width={268} height={281}
        make={() => makeEmbed('Covariance embedding (\u03bb=1)', [COV_C0, COV_C1, COV_C2, COV_C3], 666, { top: 26, left: 8, right: 8, bottom: 33 })} />
      <ChartCanvas left={825} top={260} width={318} height={281} make={makeKnn} />
    </div>
  );
}
